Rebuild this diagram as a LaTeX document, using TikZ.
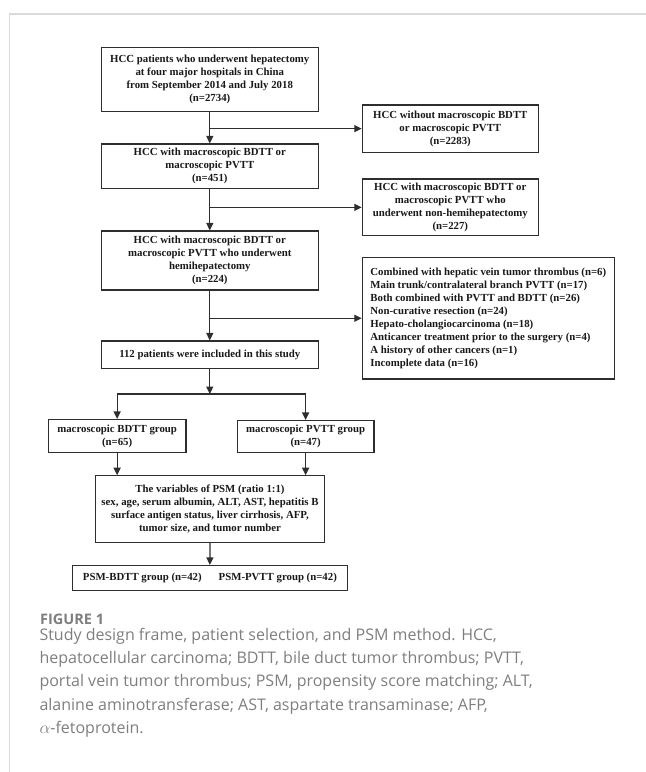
\documentclass[tikz,border=0pt]{standalone}
\usepackage{fontspec}
\setmainfont{Liberation Serif}
\newfontfamily\capfont{Open Sans}
\usetikzlibrary{arrows.meta}
\definecolor{lncol}{HTML}{2E2E2E}
\definecolor{capgray}{HTML}{7E7E7E}
\definecolor{framegray}{HTML}{DADADA}
\begin{document}
\begin{tikzpicture}[x=1pt,y=-1pt,
  box/.style={draw=lncol, line width=1.1pt, fill=white, inner sep=0pt, align=center,
    font=\fontsize{10.8}{12.9}\selectfont\bfseries, text=black!90},
  arr/.style={draw=lncol, line width=1.3pt, -{Triangle[length=7.5pt,width=7pt]}},
  captext/.style={anchor=base west, inner sep=0pt, font=\capfont\fontsize{16}{18}\selectfont, text=capgray},
  figlabel/.style={anchor=base west, inner sep=0pt, font=\capfont\fontsize{14.5}{16}\selectfont\bfseries, text=capgray}]
\useasboundingbox (0,0) rectangle (646,772);
\draw[framegray, line width=1.5pt] (9.3,772) -- (9.3,14) -- (646,14);

\node[box, minimum width=217pt, minimum height=63.6pt] (top) at (209.8,79.5)
  {HCC patients who underwent hepatectomy\\at four major hospitals in China\\from September 2014 and July 2018\\(n=2734)};
\node[box, minimum width=176pt, minimum height=47.3pt] (r1) at (450.3,128.65)
  {HCC without macroscopic BDTT\\or macroscopic PVTT\\(n=2283)};
\node[box, minimum width=217pt, minimum height=44.3pt] (b2) at (209.8,166.15)
  {HCC with macroscopic BDTT or\\macroscopic PVTT\\(n=451)};
\node[box, minimum width=176pt, minimum height=56.7pt] (r2) at (450.3,207.35)
  {HCC with macroscopic BDTT or\\macroscopic PVTT who\\underwent non-hemihepatectomy\\(n=227)};
\node[box, minimum width=217pt, minimum height=59pt] (b3) at (209.8,260.5)
  {HCC with macroscopic BDTT or\\macroscopic PVTT who underwent\\hemihepatectomy\\(n=224)};
\node[box, minimum width=252pt, minimum height=121.5pt, align=left] (big) at (488.3,318.25)
  {Combined with hepatic vein tumor thrombus (n=6)\\Main trunk/contralateral branch PVTT (n=17)\\Both combined with PVTT and BDTT (n=26)\\Non-curative resection (n=24)\\Hepato-cholangiocarcinoma (n=18)\\Anticancer treatment prior to the surgery (n=4)\\A history of other cancers (n=1)\\Incomplete data (n=16)};
\node[box, minimum width=217pt, minimum height=27.5pt] (b4) at (209.8,354.75)
  {112 patients were included in this study};
\node[box, minimum width=137.7pt, minimum height=33.2pt] (bdtt) at (117.15,436.1)
  {macroscopic BDTT group\\(n=65)};
\node[box, minimum width=136.7pt, minimum height=31.8pt] (pvtt) at (305.65,436.4)
  {macroscopic PVTT group\\(n=47)};
\node[box, minimum width=228.6pt, minimum height=66.5pt] (psm) at (210,509)
  {The variables of PSM (ratio 1:1)\\sex, age, serum albumin, ALT, AST, hepatitis B\\surface antigen status, liver cirrhosis, AFP,\\tumor size, and tumor number};
\node[box, minimum width=275.2pt, minimum height=25.2pt] (final) at (209.9,578.1)
  {PSM-BDTT group (n=42)\hspace{17pt}PSM-PVTT group (n=42)};

\coordinate (j1) at (top.south |- r1.west);
\coordinate (j2) at (b2.south |- r2.west);
\coordinate (j3) at (b3.south |- big.west);
\coordinate (split) at (209.8,394);

\draw[arr] (top.south) -- (b2.north);
\draw[arr] (j1) -- (r1.west);
\draw[arr] (b2.south) -- (b3.north);
\draw[arr] (j2) -- (r2.west);
\draw[arr] (b3.south) -- (b4.north);
\draw[arr] (j3) -- (big.west);
\draw[arr] (b4.south) -- (split);
\draw[arr] (split) -| (bdtt.north);
\draw[arr] (split) -| (pvtt.north);
\draw[arr] (bdtt.south) -- (bdtt.south |- psm.north);
\draw[arr] (pvtt.south) -- (pvtt.south |- psm.north);
\draw[arr] (psm.south) -- (final.north);

\node[figlabel] (fig) at (40,624.3) {FIGURE 1};
\node[captext] (c1) at (39.3,640) {Study design frame, patient selection, and PSM method. HCC,};
\node[captext] (c2) at (39.3,663.3) {hepatocellular carcinoma; BDTT, bile duct tumor thrombus; PVTT,};
\node[captext] (c3) at (39.3,686.7) {portal vein tumor thrombus; PSM, propensity score matching; ALT,};
\node[captext] (c4) at (39.3,710) {alanine aminotransferase; AST, aspartate transaminase; AFP,};
\node[captext] (c5) at (39.3,733.3) {$\alpha$-fetoprotein.};
\end{tikzpicture}
\end{document}
